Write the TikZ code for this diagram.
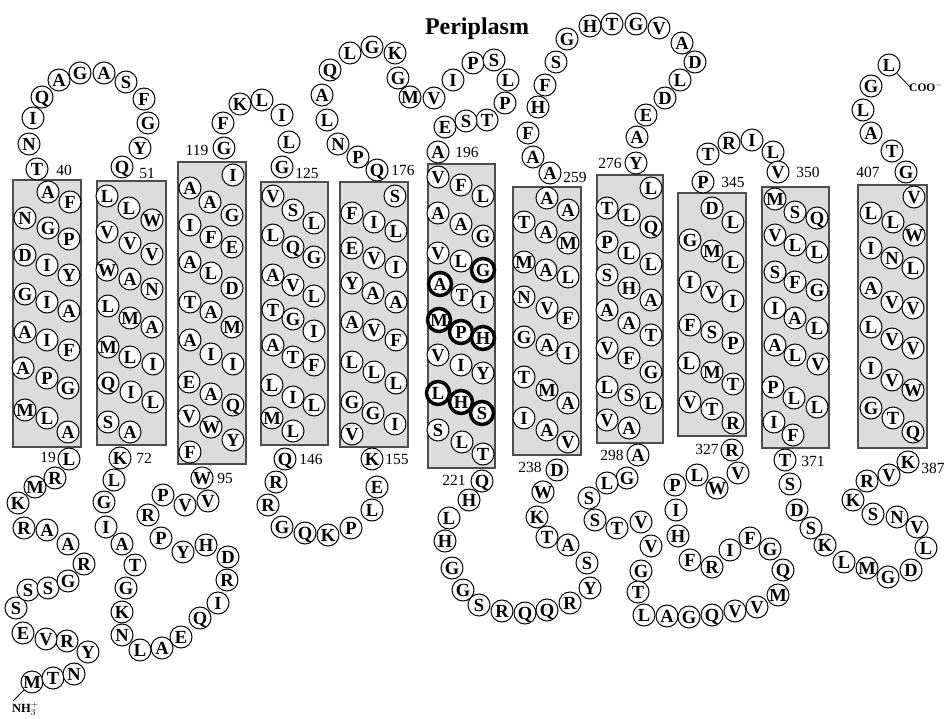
\documentclass[tikz,border=0pt]{standalone}
\usepackage{fontspec}
\setmainfont{Liberation Serif}
\definecolor{tmGrey}{HTML}{DCDCDC}
\definecolor{tmEdge}{HTML}{4D4D4D}
\tikzset{
  % one residue = one lettered circle, 22 px across
  aa/.style      = {circle, draw=black, fill=white, line width=1pt,
                    minimum size=22pt, inner sep=0pt, text height=12.2pt, text depth=0pt,
                    font=\bfseries\fontsize{18.5}{18.5}\selectfont},
  keyring/.style = {line width=3.5pt},
  helix/.style   = {draw=tmEdge, fill=tmGrey, line width=1.3pt},
  num/.style     = {inner sep=0pt, font=\fontsize{15.5}{15.5}\selectfont},
  term/.style    = {inner sep=0pt, font=\bfseries\fontsize{12.5}{12.5}\selectfont},
  tail/.style    = {line width=0.8pt},
}

\begin{document}
\begin{tikzpicture}[x=1pt, y=-1pt]
  \useasboundingbox (0,0) rectangle (946,719);
  % membrane spans
  \foreach \xa/\ya/\xb/\yb in {13/180/81/447, 97/181/166/445, 178/162/246/464,
      261/182/328/445, 340/182/408/447, 428/164/495/468, 513/187/581/455,
      597/175/663/443, 678/193/746/436, 762/187/829/448, 858/185/927/448}
    \draw[helix] (\xa,\ya) rectangle (\xb,\yb);
  \node[font=\bfseries\fontsize{24}{24}\selectfont, anchor=base] (peri) at (477,35) {Periplasm};
  % N-terminal tail, 1-19
  \foreach \x/\y/\res [count=\i from 1] in {32/682/M, 53/678/T, 74/674/N, 88/652/Y,
      67/641/R, 46/639/V, 23/633/E, 16/608/S, 28/590/S, 48/588/S, 68/581/G, 84/564/R,
      68/544/A, 47/530/A, 24/528/R, 18/503/K, 35/487/M, 55/478/R, 69/459/L}
    \node[aa] (r\i) at (\x,\y) {\res};
  % TM1, 20-39
  \foreach \x/\y/\res [count=\i from 20] in {68/432/A, 47/418/L, 25/410/M, 68/388/G,
      47/378/P, 23/368/A, 69/350/F, 47/340/I, 25/332/A, 69/311/A, 47/302/I, 25/294/G,
      69/275/Y, 47/265/I, 25/255/D, 69/239/P, 48/228/G, 25/218/N, 70/202/F, 48/192/A}
    \node[aa] (r\i) at (\x,\y) {\res};
  % loop 40-51
  \foreach \x/\y/\res [count=\i from 40] in {37/169/T, 29/144/N, 33/118/I, 42/97/Q,
      59/80/A, 80/73/G, 104/73/A, 126/82/S, 144/99/F, 148/123/G, 140/148/Y, 122/167/Q}
    \node[aa] (r\i) at (\x,\y) {\res};
  % TM2, 52-71
  \foreach \x/\y/\res [count=\i from 52] in {107/196/L, 129/208/L, 152/220/W, 107/232/V,
      130/243/V, 152/254/V, 107/270/W, 130/279/A, 152/289/N, 108/306/L, 130/318/M,
      152/327/A, 108/347/M, 130/357/L, 153/364/I, 108/383/Q, 131/392/I, 153/402/L,
      108/422/S, 130/432/A}
    \node[aa] (r\i) at (\x,\y) {\res};
  % loop 72-95
  \foreach \x/\y/\res [count=\i from 72] in {120/458/K, 114/480/L, 104/502/G, 106/527/I,
      122/544/A, 135/565/T, 126/588/G, 122/612/K, 122/635/N, 140/650/L, 162/648/A,
      181/637/E, 200/618/Q, 218/603/I, 227/580/R, 228/557/D, 206/545/H, 183/552/Y,
      161/538/P, 148/515/R, 163/495/P, 185/505/V, 208/501/V, 202/478/W}
    \node[aa] (r\i) at (\x,\y) {\res};
  % TM3, 96-118
  \foreach \x/\y/\res [count=\i from 96] in {190/452/F, 233/440/Y, 211/427/W, 189/416/V,
      233/405/Q, 211/394/A, 189/382/E, 233/364/I, 211/354/I, 190/340/A, 232/327/M,
      211/312/A, 190/302/T, 232/288/D, 211/273/L, 190/262/A, 232/247/E, 211/237/F,
      190/225/I, 232/215/G, 210/202/A, 190/188/A, 233/175/I}
    \node[aa] (r\i) at (\x,\y) {\res};
  % loop 119-125
  \foreach \x/\y/\res [count=\i from 119] in {224/148/G, 223/123/F, 240/104/K,
      262/100/L, 282/115/I, 289/142/L, 282/167/G}
    \node[aa] (r\i) at (\x,\y) {\res};
  % TM4, 126-145
  \foreach \x/\y/\res [count=\i from 126] in {273/196/V, 293/210/S, 314/223/L, 273/235/L,
      293/247/Q, 314/257/G, 273/275/A, 293/285/V, 314/296/L, 273/310/T, 293/319/G,
      314/331/I, 273/345/A, 293/357/T, 314/365/F, 272/385/L, 293/397/I, 314/405/L,
      272/418/M, 293/431/L}
    \node[aa] (r\i) at (\x,\y) {\res};
  % loop 146-155
  \foreach \x/\y/\res [count=\i from 146] in {285/459/Q, 276/482/R, 268/505/R, 282/527/G,
      305/533/Q, 328/535/K, 351/528/P, 372/510/L, 377/487/E, 372/459/K}
    \node[aa] (r\i) at (\x,\y) {\res};
  % TM5, 156-175
  \foreach \x/\y/\res [count=\i from 156] in {352/434/V, 395/424/I, 373/413/G, 352/402/G,
      396/383/L, 374/372/L, 352/362/L, 396/340/F, 374/330/V, 352/322/A, 396/302/A,
      373/293/A, 352/283/Y, 396/267/I, 374/258/V, 352/248/E, 396/231/L, 374/222/I,
      352/213/F, 395/196/S}
    \node[aa] (r\i) at (\x,\y) {\res};
  % loop 176-196
  \foreach \x/\y/\res [count=\i from 176] in {377/170/Q, 358/157/P, 338/144/N, 327/120/L,
      322/95/A, 330/70/Q, 350/53/L, 372/47/G, 395/53/K, 398/78/G, 410/97/M, 434/98/V,
      453/80/I, 473/63/P, 494/60/S, 508/80/L, 505/103/P, 487/120/T, 466/121/S,
      445/127/E, 438/152/A}
    \node[aa] (r\i) at (\x,\y) {\res};
  % TM6, 197-220
  \foreach \x/\y/\res [count=\i from 197] in {438/177/V, 461/185/F, 483/196/L, 438/213/A,
      461/224/A, 483/236/G, 438/253/V, 461/261/L, 483/270/G, 440/284/A, 462/295/T,
      483/302/I, 439/320/M, 461/332/P, 483/338/H, 438/355/V, 461/365/I, 483/373/Y,
      438/393/L, 461/402/H, 482/413/S, 438/430/S, 462/442/L, 483/454/T}
    \node[aa] (r\i) at (\x,\y) {\res};
  % loop 221-238
  \foreach \x/\y/\res [count=\i from 221] in {482/481/Q, 469/500/H, 449/518/L, 445/541/H,
      452/568/G, 463/590/G, 479/605/S, 502/611/R, 525/613/Q, 547/610/Q, 570/603/R,
      590/588/Y, 587/563/S, 568/545/A, 547/537/T, 537/517/K, 543/492/W, 557/470/D}
    \node[aa] (r\i) at (\x,\y) {\res};
  % TM7, 239-258
  \foreach \x/\y/\res [count=\i from 239] in {568/442/V, 547/430/A, 524/418/I, 568/403/A,
      547/390/M, 524/377/T, 568/353/I, 547/345/A, 524/337/G, 568/318/F, 547/308/V,
      524/297/N, 568/277/L, 546/270/A, 524/262/M, 568/243/M, 546/232/A, 524/222/T,
      568/210/A, 547/198/A}
    \node[aa] (r\i) at (\x,\y) {\res};
  % loop 259-276
  \foreach \x/\y/\res [count=\i from 259] in {550/173/A, 533/157/A, 528/133/F, 538/107/H,
      545/85/F, 556/62/S, 567/39/G, 590/26/H, 612/24/T, 636/24/G, 659/28/V, 682/43/A,
      695/62/D, 680/80/L, 665/98/D, 646/115/E, 637/137/A, 636/163/Y}
    \node[aa] (r\i) at (\x,\y) {\res};
  % TM8, 277-297
  \foreach \x/\y/\res [count=\i from 277] in {651/188/L, 607/208/T, 629/215/L, 651/227/Q,
      607/242/P, 629/253/L, 651/264/L, 607/275/S, 629/288/H, 651/300/A, 607/310/A,
      629/323/A, 651/335/T, 607/348/V, 629/358/F, 651/372/G, 607/387/L, 629/395/S,
      651/403/L, 607/420/V, 629/428/A}
    \node[aa] (r\i) at (\x,\y) {\res};
  % loop 298-327
  \foreach \x/\y/\res [count=\i from 298] in {638/455/A, 627/478/G, 607/483/L, 589/498/S,
      595/520/S, 617/528/T, 641/522/V, 651/546/V, 641/571/G, 638/592/T, 644/615/L,
      667/616/A, 689/617/G, 712/615/Q, 735/611/V, 757/607/V, 778/595/M, 783/570/Q,
      770/549/G, 750/538/F, 730/550/I, 712/567/R, 690/560/F, 678/536/H, 676/510/I,
      675/485/P, 697/475/L, 717/488/W, 738/473/V, 732/450/R}
    \node[aa] (r\i) at (\x,\y) {\res};
  % TM9, 328-344
  \foreach \x/\y/\res [count=\i from 328] in {733/423/R, 712/409/T, 690/402/V, 733/384/T,
      712/372/M, 689/363/L, 733/343/P, 712/332/S, 690/325/F, 733/301/I, 712/292/V,
      690/282/I, 733/262/L, 712/251/M, 690/240/G, 733/222/L, 712/208/D}
    \node[aa] (r\i) at (\x,\y) {\res};
  % loop 345-350
  \foreach \x/\y/\res [count=\i from 345] in {703/182/P, 708/154/T, 729/143/R, 752/140/I,
      773/152/L, 778/172/V}
    \node[aa] (r\i) at (\x,\y) {\res};
  % TM10, 351-370
  \foreach \x/\y/\res [count=\i from 351] in {775/199/M, 795/212/S, 817/218/Q, 775/235/V,
      795/245/L, 817/252/L, 775/272/S, 795/282/F, 817/290/G, 775/308/I, 795/318/A,
      817/328/L, 775/345/A, 795/355/L, 818/364/V, 773/387/P, 794/398/L, 817/407/L,
      774/422/I, 793/435/F}
    \node[aa] (r\i) at (\x,\y) {\res};
  % loop 371-387
  \foreach \x/\y/\res [count=\i from 371] in {785/460/T, 790/484/S, 797/510/D, 811/528/S,
      825/545/K, 844/562/L, 867/568/M, 888/577/G, 911/570/D, 926/548/L, 917/527/V,
      897/517/N, 873/514/S, 853/500/K, 867/481/R, 889/475/V, 908/462/K}
    \node[aa] (r\i) at (\x,\y) {\res};
  % TM11, 388-406
  \foreach \x/\y/\res [count=\i from 388] in {913/432/Q, 893/418/T, 871/408/G, 913/390/W,
      892/380/V, 871/368/I, 913/348/V, 892/339/V, 871/327/L, 913/308/V, 892/302/V,
      871/288/A, 913/268/L, 892/258/N, 871/248/I, 914/235/W, 893/222/L, 871/213/L,
      914/197/V}
    \node[aa] (r\i) at (\x,\y) {\res};
  % C-terminal tail, 407-412
  \foreach \x/\y/\res [count=\i from 407] in {906/172/G, 892/151/T, 871/133/A, 863/110/L,
      871/86/G, 889/65/L}
    \node[aa] (r\i) at (\x,\y) {\res};
  % conserved residues get a heavy ring
  \foreach \i in {205,206,209,210,211,215,216,217}
    \draw[keyring] (r\i.center) circle[radius=11.5pt];
  % residue numbers
  \foreach \x/\y/\n in {48/457/19, 64/170/40, 147/173/51, 144/458/72, 225/478/95,
      197/150/119, 307/173/125, 311/459/146, 397/459/155, 403/170/176, 467/152/196,
      454/480/221, 530/467/238, 575/177/259, 610/163/276, 612/455/298, 707/449/327,
      733/182/345, 808/172/350, 813/461/371, 933/468/387, 868/172/407}
    \node[num] (n\n) at (\x,\y) {\n};
  % chain ends
  \node[term, anchor=base west] (nterm) at (12,712) {NH$_3^+$};
  \coordinate (ntail) at (13,701);
  \draw[tail] (r1) -- (ntail);
  \node[term, anchor=base west, font=\bfseries\fontsize{11.5}{11.5}\selectfont] (cterm) at (909,92) {COO$^-$};
  \coordinate (ctail) at (910,87);
  \draw[tail] (r412) -- (ctail);
\end{tikzpicture}
\end{document}
